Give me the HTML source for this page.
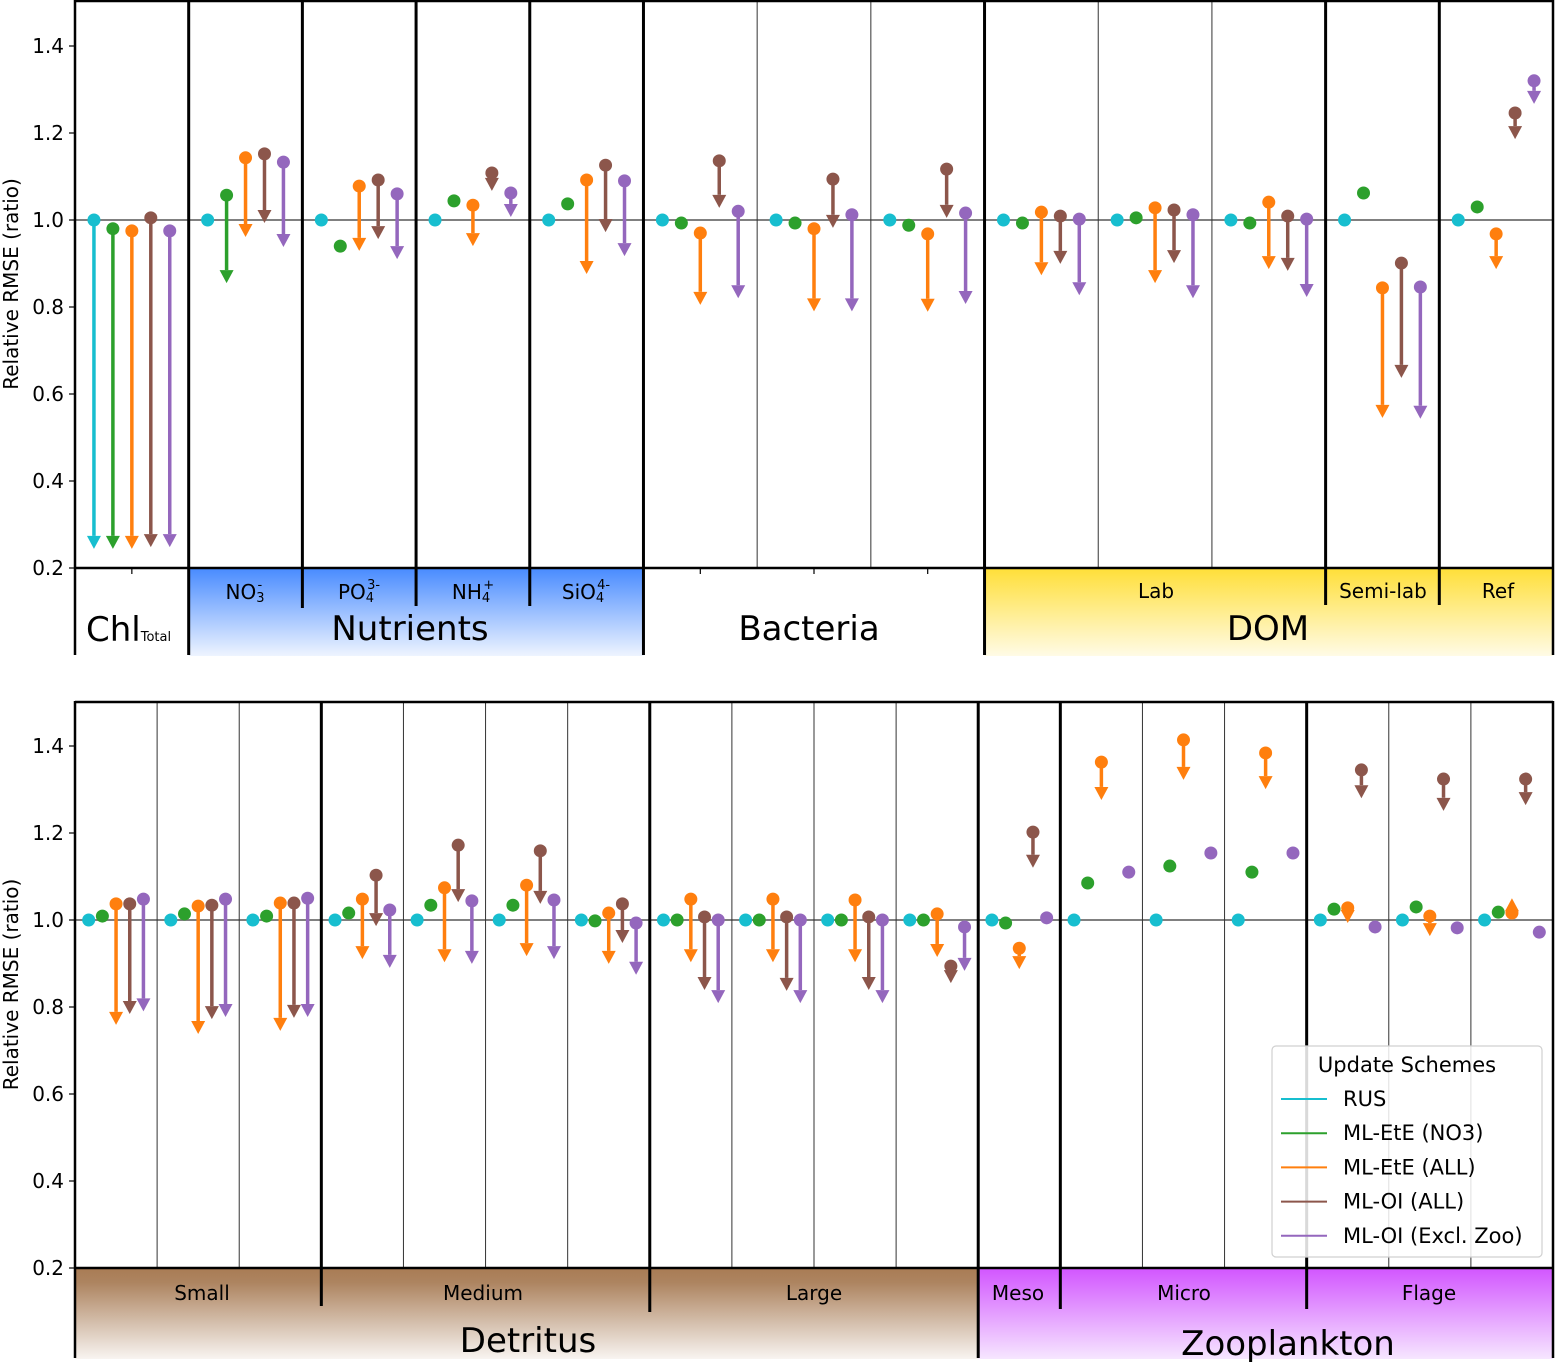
<!DOCTYPE html>
<html><head><meta charset="utf-8"><style>
html,body{margin:0;padding:0;background:#fff;}
svg{display:block;font-family:"DejaVu Sans","Liberation Sans",sans-serif;}
</style></head><body>
<svg id="chart" width="1555" height="1363" viewBox="0 0 1555 1363" xmlns="http://www.w3.org/2000/svg">
<defs>
<linearGradient id="gNut" x1="0" y1="0" x2="0" y2="1"><stop offset="0" stop-color="#4a8cff"/><stop offset="1" stop-color="#eef4ff"/></linearGradient>
<linearGradient id="gDom" x1="0" y1="0" x2="0" y2="1"><stop offset="0" stop-color="#ffdf3a"/><stop offset="1" stop-color="#fffbe6"/></linearGradient>
<linearGradient id="gDet" x1="0" y1="0" x2="0" y2="1"><stop offset="0" stop-color="#a97c55"/><stop offset="0.15" stop-color="#ad8460"/><stop offset="1" stop-color="#f8f4f1"/></linearGradient>
<linearGradient id="gZoo" x1="0" y1="0" x2="0" y2="1"><stop offset="0" stop-color="#d257ff"/><stop offset="1" stop-color="#f6e6ff"/></linearGradient>
</defs>
<g id="layer"></g>
</svg>
<script>
const seriesNames = ["RUS","ML-EtE (NO3)","ML-EtE (ALL)","ML-OI (ALL)","ML-OI (Excl. Zoo)"];
const seriesColors = ["#17becf","#2ca02c","#ff7f0e","#8c564b","#9467bd"];
const yTicks = [0.2,0.4,0.6,0.8,1.0,1.2,1.4];
const yTickLabels = ["0.2","0.4","0.6","0.8","1.0","1.2","1.4"];

// Top panel (13 columns)
const topCategories = ["Chl","NO3","PO4","NH4","SiO4","Bact1","Bact2","Bact3","Lab1","Lab2","Lab3","Semi-lab","Ref"];
const topRusStart = [1,1,1,1,1,1,1,1,1,1,1,1,1];
const topRusEnd = [0.244,1,1,1,1,1,1,1,1,1,1,1,1];
const topGreenStart = [0.98,1.057,0.94,1.044,1.037,0.993,0.993,0.988,0.993,1.005,0.993,1.062,1.03];
const topGreenEnd = [0.244,0.855,0.94,1.044,1.037,0.993,0.993,0.988,0.993,1.005,0.993,1.062,1.03];
const topOrangeStart = [0.975,1.143,1.078,1.034,1.092,0.97,0.98,0.968,1.018,1.028,1.041,0.844,0.968];
const topOrangeEnd = [0.244,0.961,0.929,0.94,0.876,0.805,0.79,0.789,0.873,0.855,0.887,0.545,0.887];
const topBrownStart = [1.005,1.152,1.092,1.108,1.126,1.136,1.094,1.117,1.009,1.023,1.009,0.901,1.246];
const topBrownEnd = [0.248,0.993,0.956,1.067,0.972,1.028,0.982,1.005,0.899,0.901,0.883,0.637,1.186];
const topPurpleStart = [0.975,1.133,1.06,1.062,1.09,1.02,1.012,1.016,1.002,1.012,1.002,0.846,1.32];
const topPurpleEnd = [0.248,0.938,0.91,1.007,0.917,0.82,0.79,0.807,0.827,0.82,0.823,0.543,1.267];

// Bottom panel (18 columns)
const botCategories = ["S1","S2","S3","M1","M2","M3","M4","L1","L2","L3","L4","Meso","Mi1","Mi2","Mi3","F1","F2","F3"];
const botRusStart = [1,1,1,1,1,1,1,1,1,1,1,1,1,1,1,1,1,1];
const botRusEnd = [1,1,1,1,1,1,1,1,1,1,1,1,1,1,1,1,1,1];
const botGreenStart = [1.009,1.014,1.009,1.016,1.034,1.034,0.998,1.0,1.0,1.0,1.0,0.993,1.085,1.124,1.11,1.025,1.03,1.018];
const botGreenEnd = [1.009,1.014,1.009,1.016,1.034,1.034,0.998,1.0,1.0,1.0,1.0,0.993,1.085,1.124,1.11,1.025,1.03,1.018];
const botOrangeStart = [1.037,1.032,1.039,1.048,1.074,1.08,1.016,1.048,1.048,1.046,1.014,0.935,1.363,1.414,1.384,1.028,1.009,1.016];
const botOrangeEnd = [0.759,0.738,0.745,0.91,0.903,0.917,0.899,0.903,0.903,0.903,0.915,0.887,1.276,1.322,1.301,0.993,0.963,1.05];
const botBrownStart = [1.037,1.034,1.039,1.103,1.172,1.159,1.037,1.007,1.007,1.007,0.894,1.202,null,null,null,1.345,1.324,1.324];
const botBrownEnd = [0.784,0.772,0.775,0.986,1.041,1.037,0.947,0.839,0.837,0.839,0.855,1.12,null,null,null,1.28,1.251,1.264];
const botPurpleStart = [1.048,1.048,1.05,1.023,1.044,1.046,0.993,1.0,1.0,1.0,0.984,1.005,1.11,1.154,1.154,0.984,0.982,0.972];
const botPurpleEnd = [0.79,0.777,0.777,0.89,0.899,0.91,0.874,0.809,0.809,0.809,0.883,1.005,1.11,1.154,1.154,0.984,0.982,0.972];

const NS="http://www.w3.org/2000/svg";
const layer=document.getElementById("layer");
function mk(tag,attrs,parent,text){const e=document.createElementNS(NS,tag);for(const k in attrs)e.setAttribute(k,attrs[k]);if(text!==undefined)e.textContent=text;(parent||layer).appendChild(e);return e;}

const X0=75,X1=1553,PX=435;
function drawPanel(p){
  const n=p.cats.length, cw=(X1-X0)/n;
  const xs=i=>X0+cw*(i+0.5);
  const ys=v=>p.base-(v-0.2)*PX;
  const g=mk("g",{});
  
  
  for(let i=0;i<n;i++){const t=mk("line",{x1:xs(i),x2:xs(i),y1:p.base,y2:p.base+6,stroke:"#000","stroke-width":1.2},g);
    }
  p.boxes.forEach(b=>{const r=mk("rect",{x:X0+cw*b[0],y:p.base+1,width:cw*(b[1]-b[0]),height:p.boxH,fill:b[2]},g);
    });
  const ref=mk("line",{x1:X0,x2:X1,y1:ys(1),y2:ys(1),stroke:"#808080","stroke-width":2},g);
  
  for(let i=1;i<n;i++){
    const x=X0+cw*i; const th=p.thick[i];
    const ext=p.ext[i]||0;
    const s=mk("line",{x1:x,x2:x,y1:p.top,y2:p.base+ext,stroke:th?"#000":"#333","stroke-width":th?3:1},g);
    
  }
  mk("line",{x1:X0,x2:X0,y1:p.top,y2:p.base+p.boxH,stroke:"#000","stroke-width":2.5},g);
  mk("line",{x1:X1,x2:X1,y1:p.top,y2:p.base+(p.rightExt||0),stroke:"#000","stroke-width":2.5},g);
  mk("line",{x1:X0,x2:X1,y1:p.top+1,y2:p.top+1,stroke:"#000","stroke-width":2.5},g);
  mk("line",{x1:X0,x2:X1,y1:p.base,y2:p.base,stroke:"#000","stroke-width":2.5},g);
  yTicks.forEach((v,k)=>{
    mk("line",{x1:X0-6,x2:X0,y1:ys(v),y2:ys(v),stroke:"#000","stroke-width":1.2},g);
    const t=mk("text",{x:X0-11,y:ys(v)+7,"text-anchor":"end","font-size":20,fill:"#000"},g,yTickLabels[k]);
    
  });
  const yt=mk("text",{x:0,y:0,transform:`translate(18,${(p.top+p.base)/2}) rotate(-90)`,"text-anchor":"middle","font-size":20},g,"Relative RMSE (ratio)");
  
  const sp=cw/6;
  p.series.forEach((s,si)=>{
    const col=seriesColors[si];
    for(let i=0;i<n;i++){
      const a=s[0][i], b=s[1][i];
      if(a===null||a===undefined) continue;
      const x=xs(i)+(si-2)*sp;
      const y0=ys(a), y1=ys(b);
      if(Math.abs(y1-y0)>0.5){
        const dir=y1>y0?1:-1, hl=13, hw=7;
        const yb=y1-dir*hl;
        if((yb-y0)*dir>0){
          const ln=mk("line",{x1:x,x2:x,y1:y0,y2:yb,stroke:col,"stroke-width":3.5},g);
          
        }
        const hd=mk("polygon",{points:`${x-hw},${yb} ${x+hw},${yb} ${x},${y1}`,fill:col},g);
        
      }
      const d=mk("circle",{cx:x,cy:y0,r:6.5,fill:col},g);
      
    }
  });
  p.labels.forEach(l=>{
    const t=mk("text",{x:l[0],y:l[1],"text-anchor":"middle","font-size":l[3],fill:"#000"},g,l[2]);
    
  });
  return {xs,ys,g,cw};
}

const topPanel=drawPanel({name:"top-panel",cats:topCategories,base:568,top:0,boxH:87,rightExt:87,
  series:[[topRusStart,topRusEnd],[topGreenStart,topGreenEnd],[topOrangeStart,topOrangeEnd],[topBrownStart,topBrownEnd],[topPurpleStart,topPurpleEnd]],
  boxes:[[1,5,"url(#gNut)"],[8,13,"url(#gDom)"]],
  thick:{1:1,2:1,3:1,4:1,5:1,6:0,7:0,8:1,9:0,10:0,11:1,12:1},
  ext:{1:87,2:40,3:38,4:38,5:87,8:87,11:37,12:37},
  labels:[[410,640,"Nutrients",34],[809,640,"Bacteria",34],[1268,640,"DOM",34],[1156,598,"Lab",20],[1383,598,"Semi-lab",20],[1498,598,"Ref",20]]});
(function(){
  const g=topPanel.g;
  let t=mk("text",{x:86,y:641,"font-size":34},g);
  mk("tspan",{},t,"Chl");mk("tspan",{"font-size":13},t,"Total");
  const chem=[["NO",245,"3","-"],["PO",359,"4","3-"],["NH",473,"4","+"],["SiO",586,"4","4-"]];
  chem.forEach(c=>{
    const tt=mk("text",{x:c[1],y:599,"text-anchor":"middle","font-size":20},g);
    
    mk("tspan",{},tt,c[0]);mk("tspan",{"font-size":13,dy:3},tt,c[2]);mk("tspan",{"font-size":13,dy:-13,dx:-7},tt,c[3]);
  });
})();
const botPanel=drawPanel({name:"bottom-panel",cats:botCategories,base:1268,top:701,boxH:90,rightExt:90,
  series:[[botRusStart,botRusEnd],[botGreenStart,botGreenEnd],[botOrangeStart,botOrangeEnd],[botBrownStart,botBrownEnd],[botPurpleStart,botPurpleEnd]],
  boxes:[[0,11,"url(#gDet)"],[11,18,"url(#gZoo)"]],
  thick:{3:1,7:1,11:1,12:1,15:1},
  ext:{3:38,7:44,11:90,12:41,15:41},
  labels:[[202,1300,"Small",20],[483,1300,"Medium",20],[814,1300,"Large",20],[1018,1300,"Meso",20],[1184,1300,"Micro",20],[1429,1300,"Flage",20],[528,1352,"Detritus",34],[1288,1355,"Zooplankton",34]]});

(function(){
  const lg=mk("g",{});
  
  
  mk("rect",{x:1272,y:1046,width:270,height:211,rx:4,fill:"#fff","fill-opacity":0.85,stroke:"#d0d0d0","stroke-width":1.2},lg);
  const tt=mk("text",{x:1407,y:1072,"text-anchor":"middle","font-size":21},lg,"Update Schemes");
  
  seriesNames.forEach((nm,i)=>{
    const y=1099+i*34.2;
    const e=mk("g",{},lg);
    
    
    mk("line",{x1:1281,x2:1327,y1:y,y2:y,stroke:seriesColors[i],"stroke-width":2},e);
    mk("text",{x:1343,y:y+7,"font-size":21},e,nm);
  });
})();
</script>
</body></html>
